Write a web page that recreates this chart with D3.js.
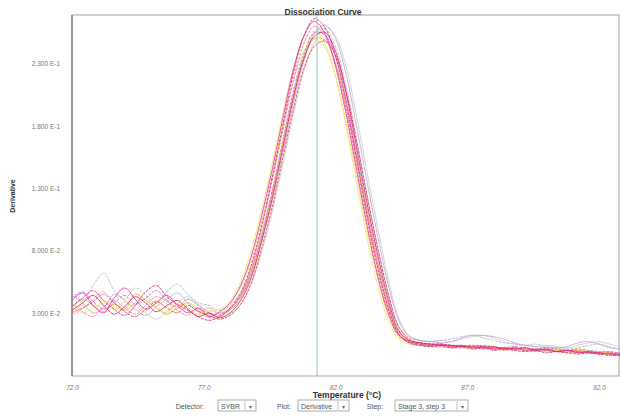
<!DOCTYPE html>
<html>
<head>
<meta charset="utf-8">
<script src="https://cdn.jsdelivr.net/npm/d3@7"></script>
<style>
  body { margin: 0; background: #fff; }
  svg { display: block; font-family: "Liberation Sans", Arial, sans-serif; }
</style>
</head>
<body>
<script>
// temperatures (shared by every well), step 0.4 C
var temps = [72.0, 72.4, 72.8, 73.2, 73.6, 74.0, 74.4, 74.8, 75.2, 75.6, 76.0, 76.4, 76.8, 77.2, 77.6,
  78.0, 78.4, 78.8, 79.2, 79.6, 80.0, 80.4, 80.8, 81.2, 81.6, 82.0, 82.4, 82.8, 83.2, 83.6, 84.0,
  84.4, 84.8, 85.2, 85.6, 86.0, 86.4, 86.8, 87.2, 87.6, 88.0, 88.4, 88.8, 89.2, 89.6, 90.0, 90.4,
  90.8, 91.2, 91.6, 92.0, 92.4, 92.8];

var wellA = [0.040, 0.046, 0.036, 0.030, 0.042, 0.050, 0.041, 0.033, 0.038, 0.044, 0.036, 0.030, 0.034, 0.027, 0.031,
  0.038, 0.052, 0.075, 0.108, 0.145, 0.186, 0.225, 0.252,
  0.264, 0.254, 0.228, 0.190, 0.145, 0.100, 0.060, 0.030, 0.012, 0.007,
  0.005, 0.004, 0.005, 0.003, 0.004, 0.002, 0.003, 0.001, 0.002, 0.001, 0.002, 0.000, 0.001, -0.001, 0.000, -0.002, -0.001, -0.002, -0.003, -0.003];
var wellB = [0.032, 0.038, 0.044, 0.036, 0.029, 0.035, 0.043, 0.038, 0.031, 0.036, 0.040, 0.033, 0.027, 0.030, 0.026,
  0.030, 0.040, 0.058, 0.088, 0.122, 0.162, 0.202, 0.234,
  0.252, 0.255, 0.240, 0.207, 0.163, 0.118, 0.077, 0.041, 0.016, 0.008,
  0.006, 0.005, 0.004, 0.004, 0.003, 0.003, 0.002, 0.003, 0.001, 0.002, 0.000, 0.001, 0.000, -0.001, 0.000, -0.001, -0.002, -0.002, -0.003, -0.004];
var wellC = [0.030, 0.036, 0.031, 0.040, 0.035, 0.032, 0.038, 0.041, 0.035, 0.030, 0.037, 0.034, 0.029, 0.032, 0.030,
  0.037, 0.050, 0.072, 0.104, 0.140, 0.180, 0.216, 0.240,
  0.250, 0.243, 0.220, 0.183, 0.140, 0.096, 0.058, 0.028, 0.011, 0.006,
  0.004, 0.004, 0.003, 0.002, 0.003, 0.002, 0.001, 0.002, 0.001, 0.000, 0.001, 0.000, -0.001, 0.000, -0.001, -0.001, -0.002, -0.001, -0.002, -0.003];
var wellD = [0.044, 0.038, 0.030, 0.034, 0.045, 0.040, 0.033, 0.028, 0.035, 0.041, 0.046, 0.038, 0.031, 0.034, 0.030,
  0.034, 0.043, 0.060, 0.087, 0.120, 0.158, 0.198, 0.232,
  0.254, 0.261, 0.250, 0.222, 0.180, 0.135, 0.092, 0.053, 0.024, 0.011,
  0.008, 0.007, 0.006, 0.007, 0.010, 0.012, 0.012, 0.011, 0.009, 0.006, 0.004, 0.003, 0.002, 0.002, 0.003, 0.006, 0.007, 0.005, 0.002, 0.001];
var wellE = [0.046, 0.040, 0.052, 0.062, 0.048, 0.041, 0.050, 0.044, 0.038, 0.047, 0.053, 0.045, 0.038, 0.036, 0.032,
  0.036, 0.046, 0.064, 0.092, 0.126, 0.165, 0.205, 0.236,
  0.255, 0.258, 0.244, 0.212, 0.170, 0.124, 0.082, 0.045, 0.019, 0.010,
  0.008, 0.007, 0.008, 0.009, 0.011, 0.012, 0.010, 0.008, 0.006, 0.005, 0.004, 0.005, 0.003, 0.002, 0.001, 0.002, 0.004, 0.005, 0.003, 0.001];
var wellF = [0.038, 0.031, 0.027, 0.035, 0.040, 0.034, 0.029, 0.036, 0.043, 0.039, 0.032, 0.028, 0.033, 0.029, 0.027,
  0.033, 0.044, 0.066, 0.098, 0.136, 0.176, 0.216, 0.246,
  0.260, 0.252, 0.230, 0.194, 0.150, 0.105, 0.065, 0.033, 0.013, 0.006,
  0.004, 0.003, 0.003, 0.002, 0.002, 0.003, 0.001, 0.002, 0.000, 0.001, 0.000, -0.001, 0.000, -0.001, -0.002, -0.001, -0.002, -0.003, -0.003, -0.004];
var wellG = [0.034, 0.041, 0.036, 0.031, 0.037, 0.033, 0.045, 0.040, 0.034, 0.029, 0.034, 0.038, 0.032, 0.026, 0.028,
  0.032, 0.042, 0.061, 0.091, 0.126, 0.166, 0.204, 0.234,
  0.250, 0.249, 0.230, 0.196, 0.154, 0.110, 0.070, 0.036, 0.014, 0.007,
  0.005, 0.004, 0.004, 0.003, 0.003, 0.002, 0.003, 0.002, 0.001, 0.002, 0.001, 0.000, 0.001, 0.000, -0.001, 0.000, -0.001, -0.002, -0.002, -0.003];
var wellH = [0.030, 0.034, 0.039, 0.045, 0.038, 0.031, 0.027, 0.033, 0.039, 0.034, 0.030, 0.036, 0.031, 0.028, 0.025,
  0.028, 0.037, 0.054, 0.082, 0.115, 0.154, 0.193, 0.226,
  0.244, 0.248, 0.237, 0.208, 0.168, 0.124, 0.083, 0.046, 0.019, 0.009,
  0.006, 0.005, 0.005, 0.004, 0.003, 0.004, 0.003, 0.002, 0.002, 0.001, 0.002, 0.000, 0.001, -0.001, 0.000, -0.002, -0.001, -0.003, -0.002, -0.003];
var wellI = [0.036, 0.030, 0.034, 0.038, 0.033, 0.039, 0.035, 0.031, 0.040, 0.037, 0.033, 0.038, 0.034, 0.031, 0.033,
  0.040, 0.055, 0.080, 0.113, 0.150, 0.190, 0.226, 0.248,
  0.256, 0.246, 0.220, 0.180, 0.135, 0.090, 0.052, 0.024, 0.009, 0.005,
  0.004, 0.003, 0.002, 0.003, 0.002, 0.001, 0.002, 0.001, 0.000, 0.001, 0.000, -0.001, 0.000, -0.001, -0.002, -0.001, -0.002, -0.002, -0.003, -0.003];
var wellJ = [0.042, 0.047, 0.039, 0.033, 0.038, 0.044, 0.037, 0.042, 0.048, 0.040, 0.035, 0.041, 0.036, 0.030, 0.029,
  0.033, 0.044, 0.063, 0.093, 0.128, 0.168, 0.208, 0.238,
  0.255, 0.253, 0.236, 0.202, 0.158, 0.113, 0.072, 0.038, 0.015, 0.008,
  0.006, 0.005, 0.005, 0.004, 0.004, 0.003, 0.004, 0.003, 0.002, 0.003, 0.002, 0.001, 0.002, 0.001, 0.000, 0.001, 0.000, -0.001, -0.001, -0.002];
var wellK = [0.035, 0.042, 0.048, 0.040, 0.033, 0.028, 0.036, 0.047, 0.052, 0.043, 0.037, 0.032, 0.027, 0.024, 0.027,
  0.034, 0.046, 0.068, 0.100, 0.139, 0.180, 0.222, 0.252,
  0.266, 0.259, 0.236, 0.199, 0.154, 0.108, 0.067, 0.034, 0.013, 0.006,
  0.004, 0.003, 0.004, 0.002, 0.003, 0.001, 0.002, 0.000, 0.001, 0.000, -0.001, 0.000, -0.002, -0.001, -0.002, -0.003, -0.002, -0.003, -0.004, -0.004];
var wellL = [0.028, 0.033, 0.041, 0.047, 0.039, 0.032, 0.037, 0.030, 0.025, 0.031, 0.038, 0.043, 0.037, 0.030, 0.027,
  0.029, 0.037, 0.053, 0.079, 0.111, 0.149, 0.189, 0.224,
  0.247, 0.259, 0.252, 0.228, 0.188, 0.143, 0.099, 0.058, 0.026, 0.012,
  0.008, 0.007, 0.008, 0.007, 0.009, 0.011, 0.012, 0.010, 0.007, 0.005, 0.004, 0.003, 0.004, 0.003, 0.002, 0.004, 0.006, 0.007, 0.005, 0.003];

var wells = [wellL, wellE, wellD, wellJ, wellG, wellC, wellI, wellH, wellB, wellF, wellA, wellK];
var wellColors = ["#cccccc", "#b9b9b9", "#c4a6e4", "#b46ac8", "#f0a448", "#e4dc3a", "#f0e874",
  "#e23c5c", "#d6284a", "#ef80ae", "#e0329c", "#d22a8a"];

var xTicks = [72, 77, 82, 87, 92];
var yTicks = [0.03, 0.08, 0.13, 0.18, 0.23];
var cursorTemp = 81.3;

var w = 621, h = 416;
var plotL = 72, plotR = 620, plotT = 15, plotB = 376;

var svg = d3.select("body").append("svg").attr("width", w).attr("height", h);

var x = d3.scaleLinear().domain([72, 92.8]).range([plotL, plotR]);
var y = d3.scaleLinear().domain([-0.0206, 0.269]).range([plotB, plotT]);

function sci(v) {
  var e = Math.floor(Math.log10(v));
  return (v / Math.pow(10, e)).toFixed(3) + " E" + e;
}

// axes (labels only, the frame is drawn as a rect)
svg.append("g")
  .attr("transform", "translate(0," + (plotB + 6) + ")")
  .call(d3.axisBottom(x).tickValues(xTicks).tickSize(0).tickFormat(function(d) { return d.toFixed(1); }))
  .call(function(g) {
    g.select(".domain").remove();
    g.selectAll("text").attr("fill", "#777").attr("font-size", "6.5px").attr("font-style", "italic");
  });

svg.append("g")
  .attr("transform", "translate(" + (plotL - 9) + ",0)")
  .call(d3.axisLeft(y).tickValues(yTicks).tickSize(0).tickFormat(sci))
  .call(function(g) {
    g.select(".domain").remove();
    g.selectAll("text").attr("fill", "#777").attr("font-size", "6.5px");
  });

// plot frame
svg.append("rect")
  .attr("x", plotL).attr("y", plotT)
  .attr("width", plotR - plotL - 1).attr("height", plotB - plotT)
  .attr("fill", "none").attr("stroke", "#a4a4a4").attr("stroke-width", 1);
svg.append("line")
  .attr("x1", plotL).attr("x2", plotL).attr("y1", plotT).attr("y2", plotB)
  .attr("stroke", "#6e6a80").attr("stroke-width", 1.2);

// curves
var line = d3.line()
  .x(function(d, i) { return x(temps[i]); })
  .y(function(d) { return y(d); })
  .curve(d3.curveCatmullRom);

svg.append("g").selectAll("path")
  .data(wells)
  .enter()
  .append("path")
  .attr("d", line)
  .attr("fill", "none")
  .attr("stroke", function(d, i) { return wellColors[i]; })
  .attr("stroke-width", 1)
  .attr("stroke-opacity", 0.85)
  .attr("stroke-dasharray", function(d, i) { return i % 2 ? "3,1" : null; });

// cursor
svg.append("line")
  .attr("x1", x(cursorTemp)).attr("x2", x(cursorTemp))
  .attr("y1", plotT).attr("y2", plotB)
  .attr("stroke", "#86c6c4").attr("stroke-width", 1);

// titles
svg.append("text")
  .attr("x", 323).attr("y", 15)
  .attr("text-anchor", "middle")
  .attr("font-size", "8.5px").attr("font-weight", "bold").attr("fill", "#333")
  .text("Dissociation Curve");

svg.append("text")
  .attr("x", 347).attr("y", 398)
  .attr("text-anchor", "middle")
  .attr("font-size", "8.5px").attr("font-weight", "bold").attr("fill", "#333")
  .text("Temperature (°C)");

svg.append("text")
  .attr("transform", "translate(15,196) rotate(-90)")
  .attr("text-anchor", "middle")
  .attr("font-size", "7px").attr("font-weight", "bold").attr("fill", "#333")
  .text("Derivative");

// control row under the chart
var controls = [
  { label: "Detector:", lx: 190, box: 218, bw: 38, value: "SYBR" },
  { label: "Plot:", lx: 284, box: 298, bw: 51, value: "Derivative" },
  { label: "Step:", lx: 375, box: 395, bw: 73, value: "Stage 3, step 3" }
];
var cy = 400;
controls.forEach(function(c) {
  svg.append("text").attr("x", c.lx).attr("y", cy + 8.5)
    .attr("text-anchor", "middle").attr("font-size", "7px").attr("fill", "#555").text(c.label);
  svg.append("rect").attr("x", c.box).attr("y", cy).attr("width", c.bw).attr("height", 11)
    .attr("fill", "#fff").attr("stroke", "#9a9a9a").attr("stroke-width", 0.8);
  svg.append("line").attr("x1", c.box + c.bw - 11).attr("x2", c.box + c.bw - 11)
    .attr("y1", cy + 1).attr("y2", cy + 10).attr("stroke", "#c4c4c4");
  svg.append("text").attr("x", c.box + 3).attr("y", cy + 8.5)
    .attr("font-size", "7px").attr("fill", "#555").text(c.value);
  svg.append("text").attr("x", c.box + c.bw - 5.5).attr("y", cy + 8.5)
    .attr("text-anchor", "middle").attr("font-size", "6px").attr("fill", "#666").text("▾");
});
</script>
</body>
</html>
